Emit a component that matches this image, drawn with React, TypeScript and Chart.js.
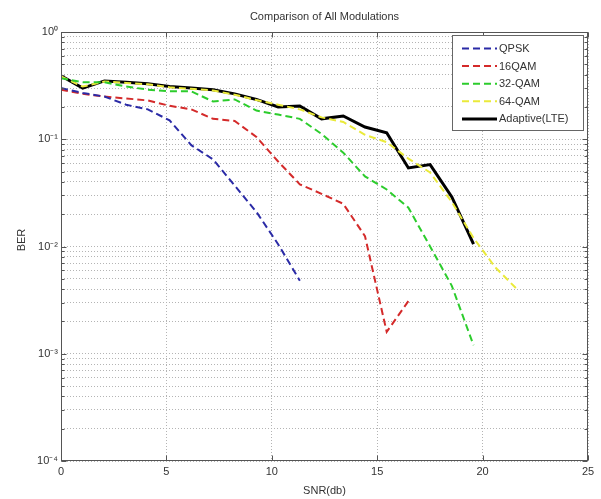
import React, { useEffect, useRef } from 'react';
import { Chart, registerables } from 'chart.js';

Chart.register(...registerables);

// SNR (dB) sample positions
const SNR = [0, 1.03, 2.06, 3.09, 4.12, 5.15, 6.18, 7.21, 8.24, 9.27, 10.3, 11.33, 12.36, 13.39, 14.42, 15.45, 16.48, 17.51, 18.54, 19.57, 20.6, 21.63];

const QPSK = [0.30, 0.27, 0.25, 0.21, 0.19, 0.15, 0.088, 0.065, 0.037, 0.021, 0.0105, 0.0048];
const QAM16 = [0.29, 0.265, 0.25, 0.24, 0.23, 0.205, 0.19, 0.155, 0.148, 0.105, 0.062, 0.038, 0.031, 0.025, 0.0125, 0.0016, 0.0031];
const QAM32 = [0.37, 0.34, 0.34, 0.31, 0.29, 0.28, 0.28, 0.225, 0.235, 0.185, 0.17, 0.155, 0.112, 0.075, 0.045, 0.034, 0.023, 0.010, 0.0043, 0.0012];
const QAM64 = [0.385, 0.31, 0.345, 0.335, 0.325, 0.305, 0.295, 0.285, 0.26, 0.232, 0.21, 0.19, 0.16, 0.145, 0.11, 0.094, 0.066, 0.049, 0.026, 0.012, 0.0064, 0.0040];
const ADAPTIVE = [0.39, 0.30, 0.35, 0.34, 0.33, 0.31, 0.30, 0.29, 0.265, 0.235, 0.20, 0.204, 0.155, 0.165, 0.13, 0.115, 0.054, 0.058, 0.029, 0.0105];

const SERIES_NAMES = ['QPSK', '16QAM', '32-QAM', '64-QAM', 'Adaptive(LTE)'];

const X_TICKS = [0, 5, 10, 15, 20, 25];
const Y_DECADES = [1e-4, 1e-3, 1e-2, 1e-1, 1];
const Y_DECADE_LABELS = ['10\u207B\u2074', '10\u207B\u00B3', '10\u207B\u00B2', '10\u207B\u00B9', '10\u2070'];
const Y_MINOR_FACTORS = [2, 3, 4, 5, 6, 7, 8, 9];

const TITLE = 'Comparison of All Modulations';
const X_TITLE = 'SNR(db)';
const Y_TITLE = 'BER';

const FONT = '"Liberation Sans", Arial, Helvetica, sans-serif';
const TEXT = '#333333';

function buildYGrid() {
  const vals: { value: number; major: boolean; label: string }[] = [];
  Y_DECADES.forEach((d, i) => {
    vals.push({ value: d, major: true, label: Y_DECADE_LABELS[i] });
    if (d < 1) {
      Y_MINOR_FACTORS.forEach((f) => vals.push({ value: d * f, major: false, label: '' }));
    }
  });
  return vals;
}
const Y_GRID = buildYGrid();

function toPoints(ys: number[]) {
  return ys.map((y, i) => ({ x: SNR[i], y }));
}

const framePlugin = {
  id: 'matlabFrame',
  afterDraw(chart: any) {
    const { ctx, chartArea: a, scales } = chart;
    ctx.save();
    const L = Math.round(a.left) + 0.5;
    const R = Math.round(a.right) - 0.5;
    const T = Math.round(a.top) + 0.5;
    const B = Math.round(a.bottom) - 0.5;
    ctx.strokeStyle = '#555555';
    ctx.lineWidth = 1;
    ctx.setLineDash([]);
    ctx.beginPath();
    X_TICKS.forEach((v) => {
      const px = Math.round(scales.x.getPixelForValue(v)) + 0.5;
      ctx.moveTo(px, B); ctx.lineTo(px, B - 5);
      ctx.moveTo(px, T); ctx.lineTo(px, T + 5);
    });
    Y_GRID.forEach((g) => {
      const py = Math.round(scales.y.getPixelForValue(g.value)) + 0.5;
      const len = g.major ? 5 : 3;
      ctx.moveTo(L, py); ctx.lineTo(L + len, py);
      ctx.moveTo(R, py); ctx.lineTo(R - len, py);
    });
    ctx.stroke();
    ctx.strokeRect(L, T, R - L, B - T);

    ctx.fillStyle = TEXT;
    ctx.font = `11px ${FONT}`;
    ctx.textAlign = 'center';
    ctx.textBaseline = 'middle';
    ctx.fillText(TITLE, (a.left + a.right) / 2, 17);
    ctx.fillText(X_TITLE, (a.left + a.right) / 2, 491);
    ctx.save();
    ctx.translate(22, 240);
    ctx.rotate(-Math.PI / 2);
    ctx.fillText(Y_TITLE, 0, 0);
    ctx.restore();

    const lx = 452, ly = 35, lw = 131, lh = 95;
    ctx.fillStyle = '#ffffff';
    ctx.fillRect(lx, ly, lw, lh);
    ctx.strokeStyle = '#666666';
    ctx.strokeRect(lx + 0.5, ly + 0.5, lw, lh);
    chart.data.datasets.forEach((ds: any, i: number) => {
      const y = 48.5 + i * 17.6;
      ctx.save();
      ctx.strokeStyle = ds.borderColor;
      ctx.lineWidth = ds.borderWidth;
      ctx.setLineDash(ds.borderDash || []);
      ctx.beginPath();
      ctx.moveTo(462, y);
      ctx.lineTo(497, y);
      ctx.stroke();
      ctx.restore();
      ctx.fillStyle = TEXT;
      ctx.font = `11px ${FONT}`;
      ctx.textAlign = 'left';
      ctx.textBaseline = 'middle';
      ctx.fillText(ds.label, 499, y + 0.5);
    });
    ctx.restore();
  },
};

export default function App() {
  const ref = useRef<HTMLCanvasElement | null>(null);

  useEffect(() => {
    document.body.style.margin = '0';
    const canvas = ref.current;
    if (!canvas) return;
    const dashed = [7, 4];
    const chart = new Chart(canvas, {
      type: 'line',
      data: {
        datasets: [
          { label: SERIES_NAMES[0], data: toPoints(QPSK), borderColor: '#2a2aa6', borderWidth: 2, borderDash: dashed },
          { label: SERIES_NAMES[1], data: toPoints(QAM16), borderColor: '#d42a2a', borderWidth: 2, borderDash: dashed },
          { label: SERIES_NAMES[2], data: toPoints(QAM32), borderColor: '#2ccc2c', borderWidth: 2, borderDash: dashed },
          { label: SERIES_NAMES[3], data: toPoints(QAM64), borderColor: '#eaea3a', borderWidth: 2, borderDash: dashed },
          { label: SERIES_NAMES[4], data: toPoints(ADAPTIVE), borderColor: '#000000', borderWidth: 3, borderDash: [] },
        ] as any,
      },
      options: {
        animation: false,
        responsive: false,
        elements: { point: { radius: 0 }, line: { tension: 0 } },
        layout: { padding: { top: 32, right: 13, left: 0, bottom: 0 } },
        plugins: {
          legend: { display: false },
          title: { display: false },
          tooltip: { enabled: false },
        },
        scales: {
          x: {
            type: 'linear',
            min: 0,
            max: 25,
            afterFit: (s: any) => { s.height = 38; },
            afterBuildTicks: (s: any) => { s.ticks = X_TICKS.map((v) => ({ value: v })); },
            ticks: {
              color: TEXT,
              font: { family: FONT, size: 11 },
              padding: 4,
              maxRotation: 0,
              autoSkip: false,
              callback: (v: any) => String(v),
            },
            grid: { color: '#b4b4b4', lineWidth: 1, drawTicks: false },
            border: { display: false, dash: [1, 2] },
          },
          y: {
            type: 'logarithmic',
            min: 1e-4,
            max: 1,
            afterFit: (s: any) => { s.width = 61; },
            afterBuildTicks: (s: any) => { s.ticks = Y_GRID.map((g) => ({ value: g.value })); },
            ticks: {
              color: TEXT,
              font: { family: FONT, size: 11 },
              padding: 3,
              autoSkip: false,
              callback: (_v: any, i: number) => Y_GRID[i] ? Y_GRID[i].label : '',
            },
            grid: { color: '#b4b4b4', lineWidth: 1, drawTicks: false },
            border: { display: false, dash: [1, 2] },
          },
        },
      },
      plugins: [framePlugin],
    });
    return () => chart.destroy();
  }, []);

  return <canvas ref={ref} width={601} height={499} style={{ display: 'block' }} />;
}
